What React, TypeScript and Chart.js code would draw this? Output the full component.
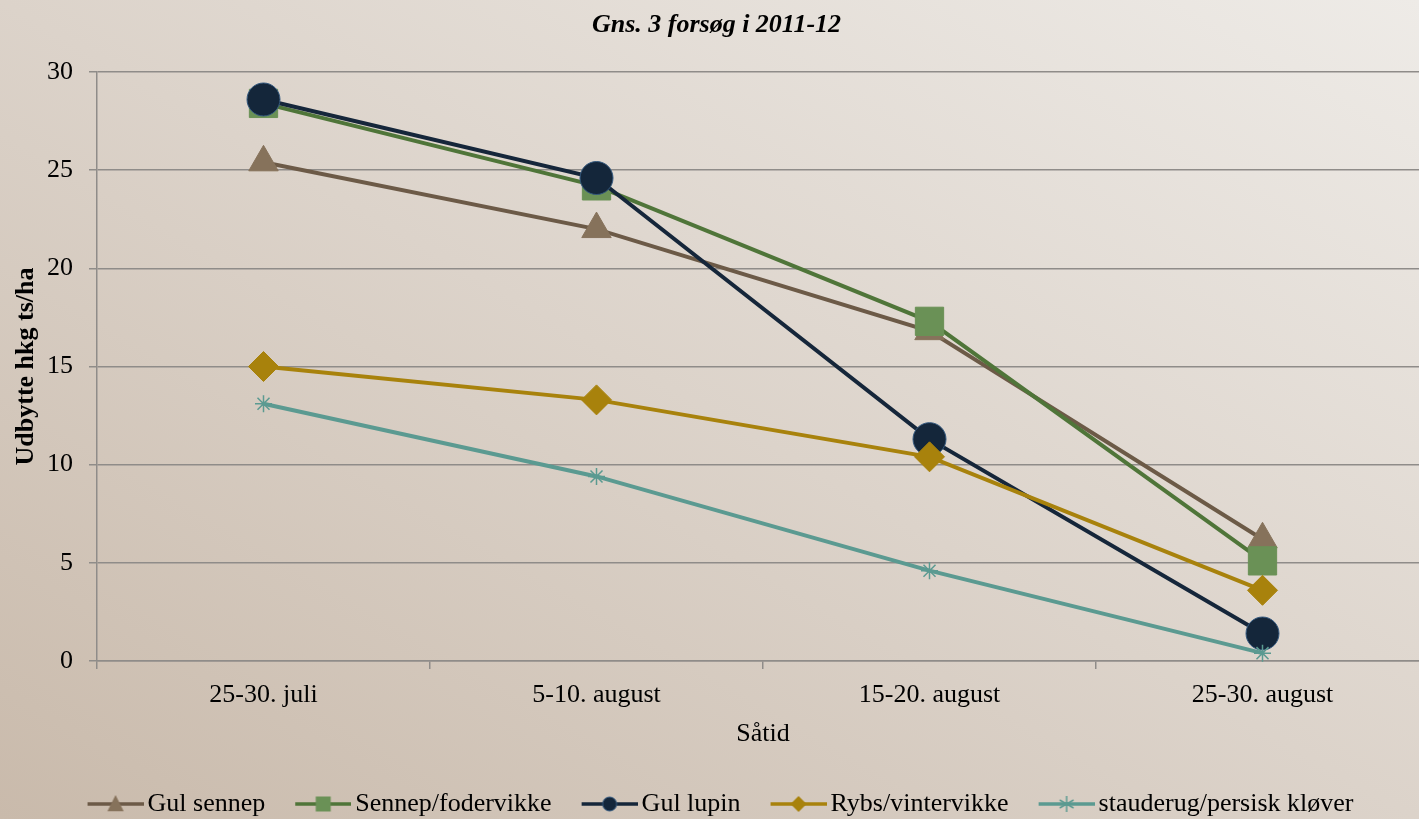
import React, { useEffect, useRef } from 'react';
import { Chart, registerables } from 'chart.js';

Chart.register(...registerables);

const categories = ['25-30. juli', '5-10. august', '15-20. august', '25-30. august'];
const seriesNames = ['Gul sennep', 'Sennep/fodervikke', 'Gul lupin', 'Rybs/vintervikke', 'stauderug/persisk kløver'];
const gulSennep = [25.4, 22.0, 16.8, 6.2];
const sennepFodervikke = [28.4, 24.2, 17.3, 5.1];
const gulLupin = [28.6, 24.6, 11.3, 1.4];
const rybsVintervikke = [15.0, 13.3, 10.4, 3.6];
const stauderugKlover = [13.1, 9.4, 4.6, 0.4];
const yMin = 0;
const yMax = 30;
const yStep = 5;
const chartTitle = 'Gns. 3 forsøg i 2011-12';
const yTitle = 'Udbytte hkg ts/ha';
const xTitle = 'Såtid';

const FONT = "'Liberation Serif', 'Times New Roman', serif";
const GRID = '#8f8c89';
const CANVAS_W = 1440;
const CANVAS_H = 827;
const PLOT_BOTTOM = 661;

type Kind = 'triangle' | 'rect' | 'circle' | 'rectRot' | 'star';

const styles: { line: string; fill: string; border: string; kind: Kind; r: number; lr: number }[] = [
  { line: '#6c5a47', fill: '#86725b', border: '#86725b', kind: 'triangle', r: 17, lr: 9 },
  { line: '#4f7539', fill: '#6a9156', border: '#6a9156', kind: 'rect', r: 20, lr: 7.5 },
  { line: '#15263a', fill: '#14263a', border: '#34597f', kind: 'circle', r: 16.5, lr: 7 },
  { line: '#a8820c', fill: '#a8820c', border: '#a8820c', kind: 'rectRot', r: 15, lr: 8 },
  { line: '#5b9a91', fill: '#5b9a91', border: '#5b9a91', kind: 'star', r: 8.5, lr: 8 },
];

const ICON_SHIFT = 17;

function makeIcon(i: number): HTMLCanvasElement {
  const s = styles[i];
  const c = document.createElement('canvas');
  c.width = 56 + ICON_SHIFT;
  c.height = 22;
  const ctx = c.getContext('2d')!;
  const x0 = ICON_SHIFT;
  const cx = x0 + 28;
  const cy = 11;
  ctx.strokeStyle = s.line;
  ctx.lineWidth = 3.5;
  ctx.beginPath();
  ctx.moveTo(x0, cy);
  ctx.lineTo(x0 + 56, cy);
  ctx.stroke();
  const r = s.lr;
  ctx.fillStyle = s.fill;
  ctx.strokeStyle = s.border;
  ctx.lineWidth = 1;
  ctx.beginPath();
  if (s.kind === 'triangle') {
    ctx.moveTo(cx, cy - r);
    ctx.lineTo(cx + r * 0.9, cy + r * 0.8);
    ctx.lineTo(cx - r * 0.9, cy + r * 0.8);
    ctx.closePath();
    ctx.fill();
  } else if (s.kind === 'rect') {
    ctx.rect(cx - r, cy - r, 2 * r, 2 * r);
    ctx.fill();
  } else if (s.kind === 'circle') {
    ctx.arc(cx, cy, r, 0, Math.PI * 2);
    ctx.fill();
    ctx.stroke();
  } else if (s.kind === 'rectRot') {
    ctx.moveTo(cx, cy - r);
    ctx.lineTo(cx + r, cy);
    ctx.lineTo(cx, cy + r);
    ctx.lineTo(cx - r, cy);
    ctx.closePath();
    ctx.fill();
  } else {
    ctx.lineWidth = 1.5;
    for (let a = 0; a < 3; a++) {
      const ang = (a * Math.PI) / 3;
      ctx.moveTo(cx + Math.sin(ang) * r, cy - Math.cos(ang) * r);
      ctx.lineTo(cx - Math.sin(ang) * r, cy + Math.cos(ang) * r);
    }
    ctx.stroke();
  }
  return c;
}

export default function App() {
  const ref = useRef<HTMLCanvasElement | null>(null);

  useEffect(() => {
    if (!ref.current) return;
    const values = [gulSennep, sennepFodervikke, gulLupin, rybsVintervikke, stauderugKlover];
    const icons = values.map((_, i) => makeIcon(i));
    const datasets = values.map((data, i) => ({
      label: seriesNames[i],
      data,
      borderColor: styles[i].line,
      backgroundColor: styles[i].fill,
      borderWidth: 4,
      pointStyle: styles[i].kind,
      pointRadius: styles[i].r,
      pointHoverRadius: styles[i].r,
      pointBackgroundColor: styles[i].fill,
      pointBorderColor: styles[i].border,
      pointBorderWidth: styles[i].kind === 'star' ? 1.5 : 1,
      tension: 0,
      fill: false,
      clip: false,
      order: values.length - i,
    }));

    const chart = new Chart(ref.current, {
      type: 'line',
      data: { labels: categories, datasets },
      options: {
        responsive: false,
        animation: false,
        events: [],
        layout: { autoPadding: false, padding: { left: 4, right: 11, top: 0, bottom: 0 } },
        plugins: {
          tooltip: { enabled: false },
          title: {
            display: true,
            text: chartTitle,
            color: '#000',
            font: { family: FONT, size: 26, weight: 'bold', style: 'italic', lineHeight: 1.2 },
            padding: { top: 9.4, bottom: 31.4 },
          },
          legend: {
            display: true,
            position: 'bottom',
            labels: {
              usePointStyle: true,
              pointStyleWidth: 38 + ICON_SHIFT,
              padding: 39 - ICON_SHIFT,
              color: '#000',
              font: { family: FONT, size: 26 },
              generateLabels: () =>
                seriesNames.map((name, i) => ({
                  text: name,
                  pointStyle: icons[i] as any,
                  datasetIndex: i,
                  hidden: false,
                  fillStyle: styles[i].fill,
                  strokeStyle: 'rgba(0,0,0,0)',
                  lineWidth: 0,
                  fontColor: '#000',
                })),
            },
          },
        },
        scales: {
          x: {
            type: 'category',
            offset: true,
            grid: {
              display: true,
              drawOnChartArea: false,
              drawTicks: true,
              tickLength: 8,
              offset: true,
              color: GRID,
              lineWidth: 1.5,
            },
            border: { display: true, color: GRID, width: 1.5 },
            ticks: {
              color: '#000',
              font: { family: FONT, size: 26 },
              padding: 11,
              maxRotation: 0,
              autoSkip: false,
            },
            title: {
              display: true,
              text: xTitle,
              color: '#000',
              font: { family: FONT, size: 26 },
              padding: { top: 0, bottom: 19 },
            },
            afterFit: (scale: any) => {
              const lh = scale.chart.legend ? scale.chart.legend.height : 60;
              scale.height = CANVAS_H - PLOT_BOTTOM - lh;
            },
          },
          y: {
            min: yMin,
            max: yMax,
            ticks: {
              stepSize: yStep,
              color: '#000',
              font: { family: FONT, size: 26 },
              padding: 16,
            },
            grid: {
              color: GRID,
              lineWidth: 1.5,
              drawTicks: true,
              tickLength: 8,
            },
            border: { display: true, color: GRID, width: 1.5 },
            title: {
              display: true,
              text: yTitle,
              color: '#000',
              font: { family: FONT, size: 26, weight: 'bold' },
              padding: { top: 6.4, bottom: 0 },
            },
            afterFit: (scale: any) => {
              scale.width = 93;
            },
          },
        },
      } as any,
    });
    return () => chart.destroy();
  }, []);

  return (
    <div
      style={{
        position: 'fixed',
        left: 0,
        top: 0,
        width: '100vw',
        height: '100vh',
        overflow: 'hidden',
        background: 'linear-gradient(to top right, #c9baab 0%, #dcd3ca 50%, #eeebe7 100%)',
      }}
    >
      <canvas
        ref={ref}
        width={CANVAS_W}
        height={CANVAS_H}
        style={{ display: 'block', position: 'absolute', left: 0, top: 0 }}
      />
    </div>
  );
}
